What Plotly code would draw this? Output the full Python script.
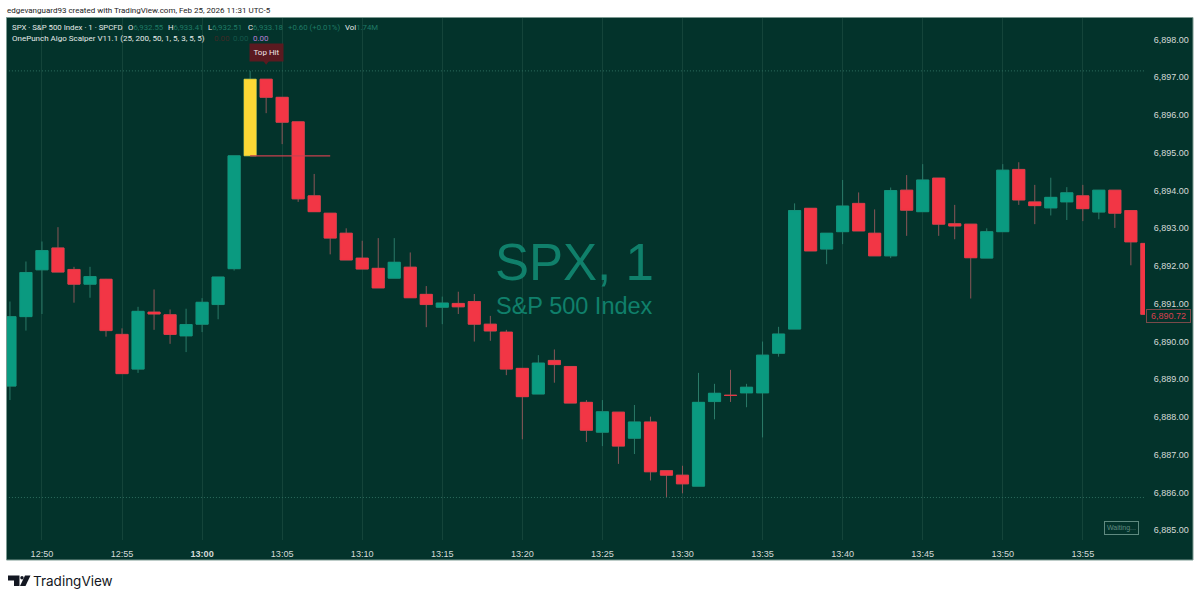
import plotly.graph_objects as go

times = ["12:48","12:49","12:50","12:51","12:52","12:53","12:54","12:55","12:56","12:57","12:58","12:59",
         "13:00","13:01","13:02","13:03","13:04","13:05","13:06","13:07","13:08","13:09","13:10","13:11",
         "13:12","13:13","13:14","13:15","13:16","13:17","13:18","13:19","13:20","13:21","13:22","13:23",
         "13:24","13:25","13:26","13:27","13:28","13:29","13:30","13:31","13:32","13:33","13:34","13:35",
         "13:36","13:37","13:38","13:39","13:40","13:41","13:42","13:43","13:44","13:45","13:46","13:47",
         "13:48","13:49","13:50","13:51","13:52","13:53","13:54","13:55","13:56","13:57","13:58","13:59"]
opens = [6888.82,6890.66,6891.90,6892.48,6891.91,6891.52,6891.65,6890.19,6889.27,6890.78,6890.71,6890.15,
         6890.46,6890.98,6891.93,6894.92,6896.95,6896.47,6895.82,6893.86,6893.40,6892.87,6892.21,6891.94,
         6891.68,6891.97,6891.25,6890.91,6891.01,6891.06,6890.46,6890.25,6889.29,6888.61,6889.50,6889.34,
         6888.39,6887.60,6888.13,6887.44,6887.87,6886.58,6886.46,6886.17,6888.41,6888.58,6888.64,6888.64,
         6889.69,6890.33,6893.53,6892.45,6892.91,6893.66,6892.87,6892.27,6894.01,6893.44,6894.33,6893.12,
         6893.11,6892.21,6892.91,6894.56,6893.70,6893.54,6893.70,6893.86,6893.43,6894.01,6893.47,6892.60]
highs = [6891.06,6892.12,6892.65,6893.03,6891.98,6891.98,6891.66,6890.35,6890.92,6891.38,6890.85,6890.87,
         6891.15,6891.71,6894.92,6897.17,6896.95,6896.47,6895.82,6894.44,6893.40,6893.00,6892.67,6892.74,
         6892.74,6892.36,6891.47,6891.19,6891.32,6891.26,6890.68,6890.31,6889.29,6889.64,6889.79,6889.34,
         6888.45,6888.45,6888.13,6888.32,6888.01,6886.58,6886.71,6889.17,6888.88,6889.25,6888.88,6890.00,
         6890.39,6893.66,6893.53,6892.87,6894.28,6893.95,6893.50,6894.08,6894.41,6894.70,6894.33,6893.62,
         6893.11,6893.00,6894.70,6894.75,6894.15,6894.34,6894.09,6894.15,6894.01,6894.01,6893.47,6892.60]
lows = [6888.45,6890.29,6890.73,6891.84,6891.03,6891.16,6890.13,6889.15,6889.17,6890.31,6889.94,6889.72,
        6890.25,6890.59,6891.88,6894.92,6896.05,6895.23,6893.70,6893.44,6892.31,6892.16,6891.92,6891.42,
        6891.68,6891.16,6890.38,6890.46,6890.73,6890.00,6890.02,6889.11,6887.41,6888.61,6888.91,6888.37,
        6887.34,6887.23,6886.76,6887.02,6886.32,6885.87,6885.98,6886.17,6887.94,6888.40,6888.26,6887.46,
        6889.60,6890.33,6892.40,6892.05,6892.58,6892.93,6892.27,6892.21,6892.80,6893.44,6892.80,6892.71,
        6891.14,6892.21,6892.91,6893.62,6893.11,6893.34,6893.22,6893.19,6893.24,6893.01,6892.02,6890.72]
closes = [6890.66,6891.83,6892.41,6891.84,6891.52,6891.72,6890.29,6889.15,6890.80,6890.73,6890.19,6890.45,
          6891.04,6891.71,6894.92,6896.95,6896.47,6895.81,6893.78,6893.44,6892.74,6892.16,6891.92,6891.42,
          6892.10,6891.16,6890.98,6891.02,6890.92,6890.46,6890.28,6889.27,6888.54,6889.43,6889.39,6888.37,
          6887.65,6888.14,6887.23,6887.87,6886.55,6886.46,6886.23,6888.39,6888.63,6888.57,6888.79,6889.64,
          6890.20,6893.47,6892.40,6892.87,6893.59,6892.93,6892.27,6894.00,6893.48,6894.28,6893.11,6893.06,
          6892.22,6892.91,6894.54,6893.75,6893.60,6893.82,6893.94,6893.52,6894.01,6893.40,6892.64,6890.72]
x_tick_times = ["12:50","12:55","13:00","13:05","13:10","13:15","13:20","13:25","13:30","13:35","13:40","13:45","13:50","13:55"]
y_ticks = [6885,6886,6887,6888,6889,6890,6891,6892,6893,6894,6895,6896,6897,6898]
signal_time = "13:03"
signal_end = "13:08"
label_time = "13:04"
signal_level = 6894.92
last_price = 6890.72

DAY = "2026-02-25 "
def T(s): return DAY + s + ":00"

# pixel frame of the plotting pane inside the 1200x600 page
L, R, TOP, BOT = 7, 1145, 18, 540
def px(x): return (x - L) / (R - L)
def py(y): return (BOT - y) / (BOT - TOP)

BG = "#03332b"; GREEN = "#0a9a80"; RED = "#f23645"; YELLOW = "#fdd835"
WICK_G = "#2a7a68"; WICK_R = "#8a5658"
FONT = "Liberation Sans"
SMALL = "Roboto"

xs = [T(t) for t in times]
fig = go.Figure()

# wicks
fig.add_trace(go.Candlestick(x=xs, open=opens, high=highs, low=lows, close=closes,
    increasing=dict(line=dict(color=WICK_G, width=1), fillcolor=WICK_G),
    decreasing=dict(line=dict(color=WICK_R, width=1), fillcolor=WICK_R),
    hoverinfo="skip", showlegend=False))

# bodies
idx = [i for i, t in enumerate(times) if t != signal_time]
fig.add_trace(go.Candlestick(x=[xs[i] for i in idx], open=[opens[i] for i in idx],
    high=[max(opens[i], closes[i]) for i in idx], low=[min(opens[i], closes[i]) for i in idx],
    close=[closes[i] for i in idx],
    increasing=dict(line=dict(color=GREEN, width=0.5), fillcolor=GREEN),
    decreasing=dict(line=dict(color=RED, width=0.5), fillcolor=RED),
    hoverinfo="skip", showlegend=False))

# highlighted candle
k = times.index(signal_time)
fig.add_trace(go.Candlestick(x=xs, open=[opens[k] if i == k else None for i in range(len(xs))],
    high=[closes[k] if i == k else None for i in range(len(xs))],
    low=[opens[k] if i == k else None for i in range(len(xs))],
    close=[closes[k] if i == k else None for i in range(len(xs))],
    increasing=dict(line=dict(color=YELLOW, width=0.5), fillcolor=YELLOW),
    hoverinfo="skip", showlegend=False))

# signal level line
fig.add_trace(go.Scatter(x=[T(signal_time), T(signal_end)], y=[signal_level, signal_level], mode="lines",
    line=dict(color="#c8404e", width=1.2), hoverinfo="skip", showlegend=False))

# session high / low dotted lines
for level in (max(highs), min(lows)):
    fig.add_trace(go.Scatter(x=["2026-02-25 12:47:00", "2026-02-25 14:00:00"], y=[level, level], mode="lines",
        line=dict(color="#2f6f60", width=1, dash="1px,2px"), hoverinfo="skip", showlegend=False))

# "Top Hit" pointer
fig.add_trace(go.Scatter(x=[T(label_time)], y=[max(highs) + 0.24], mode="markers",
    marker=dict(symbol="triangle-down", size=6, color="#5a1a20"), hoverinfo="skip", showlegend=False))

def note(x, y, text, size=8.5, color="#d5dad8", anchor="left", family=SMALL, **kw):
    fig.add_annotation(x=px(x), y=py(y), xref="paper", yref="paper", text=text, showarrow=False,
        xanchor=anchor, yanchor="middle", align=anchor, font=dict(size=size, color=color, family=family),
        borderpad=0, **kw)

VAL = "#1f7a65"
note(6, 10, "edgevanguard93 created with TradingView.com, Feb 25, 2026 11:31 UTC-5", size=8, color="#222222")
note(11, 27, "SPX · S&P 500 Index · 1 · SPCFD", size=7.8, color="#e6ebe9")
for xpos, letter, val in [(127, "O", "6,932.55"), (167, "H", "6,933.41"), (207, "L", "6,932.51"), (247, "C", "6,933.18")]:
    note(xpos, 27, f"<span style='color:#e6ebe9'>{letter}</span>{val}", size=7.8, color=VAL)
note(287, 27, "+0.60 (+0.01%)", size=7.8, color=VAL)
note(344, 27, "<span style='color:#e6ebe9'>Vol</span>1.74M", size=7.8, color=VAL)
note(11, 38.5, "OnePunch Algo Scalper V11.1 (25, 200, 50, 1, 5, 3, 5, 5)", size=8, color="#e6ebe9")
note(213, 38.5, "0.00", size=8, color="#3f2a26")
note(232, 38.5, "0.00", size=8, color="#14564a")
note(252, 38.5, "0.00", size=8, color="#b77fd6")

# watermark
note(494, 262, "SPX, 1", size=51, color="#10806b", family=FONT)
note(495, 306, "S&P 500 Index", size=23.5, color="#10806b", family=FONT)

# "Top Hit" label
fig.add_annotation(x=T(label_time), y=py(52.5), xref="x", yref="paper", text="Top Hit", showarrow=False,
    xanchor="center", yanchor="middle",
    bgcolor="#5a1a20", font=dict(size=8, color="#f0e6e6", family=SMALL), width=33, height=17, borderpad=0)

# last price box
fig.add_annotation(x=px(1168.2), y=py(315.8), xref="paper", yref="paper", text=f"{last_price:,.2f}", showarrow=False,
    xanchor="center", yanchor="middle",
    font=dict(size=9, color="#d8404f", family=FONT), bgcolor=BG, bordercolor="#7a4a4a", borderwidth=1,
    borderpad=1, width=41, height=10)

# Waiting box
fig.add_annotation(x=px(1121.5), y=py(527.5), xref="paper", yref="paper", text="Waiting...", showarrow=False,
    xanchor="center", yanchor="middle",
    font=dict(size=7, color="#5f8a80", family=FONT), bordercolor="#5f8a80", borderwidth=1, borderpad=1,
    width=31, height=10)

# TradingView wordmark
fig.add_annotation(x=px(30.5), y=py(580.5), xref="paper", yref="paper", text="TradingView", showarrow=False,
    xanchor="left", yanchor="middle", font=dict(size=13.5, color="#131722", family="Inter"))

def poly(points):
    return "M " + " L ".join(f"{px(a):.5f},{py(b):.5f}" for a, b in points) + " Z"

shapes = [
    dict(type="rect", xref="paper", yref="paper", x0=px(6.5), x1=px(1193), y0=py(560), y1=py(17.5),
         fillcolor=BG, line=dict(color="#7d9a92", width=1), layer="below"),
    dict(type="path", xref="paper", yref="paper", path=poly([(8, 575.5), (19.5, 575.5), (19.5, 586), (14, 586), (14, 580.5), (8, 580.5)]),
         fillcolor="#131722", line=dict(width=0)),
    dict(type="circle", xref="paper", yref="paper", x0=px(20.3), x1=px(23.7), y0=py(579.5), y1=py(576),
         fillcolor="#131722", line=dict(width=0)),
    dict(type="path", xref="paper", yref="paper", path=poly([(25, 575.5), (30.5, 575.5), (25.5, 586), (20, 586)]),
         fillcolor="#131722", line=dict(width=0)),
]

x_lo = "2026-02-25 12:47:49"
x_hi = "2026-02-25 13:58:53"
y_lo = 6885 + (530.3 - BOT) / 37.75
y_hi = 6885 + (530.3 - TOP) / 37.75

fig.update_layout(
    width=1200, height=600, autosize=False,
    margin=dict(l=L, r=1200 - R, t=TOP, b=600 - BOT),
    paper_bgcolor="white", plot_bgcolor="rgba(0,0,0,0)",
    showlegend=False, shapes=shapes, boxgap=0.24, boxgroupgap=0, hovermode=False,
    xaxis=dict(type="date", range=[x_lo, x_hi], rangeslider=dict(visible=False),
        tickvals=[T(t) for t in x_tick_times],
        ticktext=[f"<b>{t}</b>" if t == "13:00" else t for t in x_tick_times],
        tickfont=dict(size=9.1, color="#d5dad8", family=FONT), tickangle=0,
        showgrid=True, gridcolor="#14443a", gridwidth=1, zeroline=False, showline=False,
        ticks="outside", ticklen=5, tickcolor="rgba(0,0,0,0)"),
    yaxis=dict(side="right", range=[y_lo, y_hi], tickvals=y_ticks, tickformat=",.2f",
        tickfont=dict(size=9, color="#d5dad8", family=FONT),
        showgrid=False, zeroline=False, showline=False,
        ticks="outside", ticklen=6, tickcolor="rgba(0,0,0,0)"),
)
fig.write_html("out.html", config={"displayModeBar": False},
               post_script="document.documentElement.style.overflow='hidden';document.body.style.margin='0';")
